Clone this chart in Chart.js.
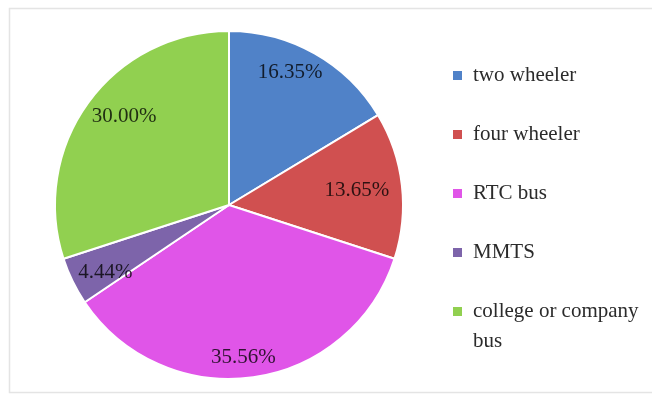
<!DOCTYPE html>
<html>
<head>
<meta charset="utf-8">
<script src="https://cdn.jsdelivr.net/npm/chart.js@4/dist/chart.umd.min.js"></script>
<style>
    html, body { margin: 0; padding: 0; background: #fff; }
    #wrap { width: 652px; height: 399px; position: relative; }
</style>
</head>
<body>
<div id="wrap"><canvas id="modeChart" width="652" height="399"></canvas></div>
<script>
// 通学手段の割合 (%)
const categories = ['two wheeler', 'four wheeler', 'RTC bus', 'MMTS', 'college or company bus'];
const shares = [16.35, 13.65, 35.56, 4.44, 30.00];
const sliceColors = ['#5082C8', '#D05050', '#E055E8', '#7D64AA', '#91D050'];

// ラベル位置: 扇形内の角度比率と半径比率
const labelArcPos = [0.42, 0.50, 0.52, 0.33, 0.54];
const labelRadius = [0.84, 0.74, 0.88, 0.81, 0.79];

const FONT = "'Liberation Serif', 'Times New Roman', serif";

// 枠線
const framePlugin = {
    id: 'frame',
    beforeDraw(chart) {
        const { ctx } = chart;
        ctx.save();
        ctx.fillStyle = '#fff';
        ctx.fillRect(0, 0, chart.width, chart.height);
        ctx.strokeStyle = '#e4e4e4';
        ctx.lineWidth = 1.5;
        ctx.strokeRect(9.5, 8.5, chart.width + 10, 384);
        ctx.restore();
    }
};

// 扇形の中にパーセント表示
const sliceLabelPlugin = {
    id: 'sliceLabels',
    afterDatasetsDraw(chart) {
        const { ctx } = chart;
        const meta = chart.getDatasetMeta(0);
        ctx.save();
        ctx.font = '21px ' + FONT;
        ctx.textAlign = 'center';
        ctx.textBaseline = 'middle';
        ctx.fillStyle = 'rgba(0, 0, 0, 0.78)';
        meta.data.forEach((arc, i) => {
            const { x, y, startAngle, endAngle, outerRadius } =
                arc.getProps(['x', 'y', 'startAngle', 'endAngle', 'outerRadius'], true);
            const a = startAngle + (endAngle - startAngle) * labelArcPos[i];
            const r = outerRadius * labelRadius[i];
            const text = shares[i].toFixed(2) + '%';
            ctx.fillText(text, x + Math.cos(a) * r, y + Math.sin(a) * r);
        });
        ctx.restore();
    }
};

// 右側の凡例 (折り返しあり)
const sideLegendPlugin = {
    id: 'sideLegend',
    afterDraw(chart) {
        const { ctx } = chart;
        const boxX = 453, textX = 473, maxW = chart.width - textX - 6;
        let y = 75;
        ctx.save();
        ctx.font = '21px ' + FONT;
        ctx.textBaseline = 'middle';
        categories.forEach((name, i) => {
            // 単語ごとに折り返す
            const words = name.split(' ');
            const lines = [];
            let cur = '';
            words.forEach(w => {
                const test = cur ? cur + ' ' + w : w;
                if (ctx.measureText(test).width > maxW && cur) {
                    lines.push(cur);
                    cur = w;
                } else {
                    cur = test;
                }
            });
            lines.push(cur);

            ctx.fillStyle = sliceColors[i];
            ctx.fillRect(boxX, y - 4, 9, 9);
            ctx.fillStyle = '#2b2b2b';
            lines.forEach((ln, k) => ctx.fillText(ln, textX, y + k * 30));
            y += 59;
        });
        ctx.restore();
    }
};

new Chart(document.getElementById('modeChart'), {
    type: 'pie',
    data: {
        labels: categories,
        datasets: [{
            data: shares,
            backgroundColor: sliceColors,
            borderColor: '#ffffff',
            borderWidth: 2
        }]
    },
    plugins: [framePlugin, sliceLabelPlugin, sideLegendPlugin],
    options: {
        responsive: false,
        animation: false,
        layout: {
            padding: { left: 54, top: 30, right: 248, bottom: 19 }
        },
        plugins: {
            legend: { display: false },
            tooltip: { enabled: false }
        }
    }
});
</script>
</body>
</html>
